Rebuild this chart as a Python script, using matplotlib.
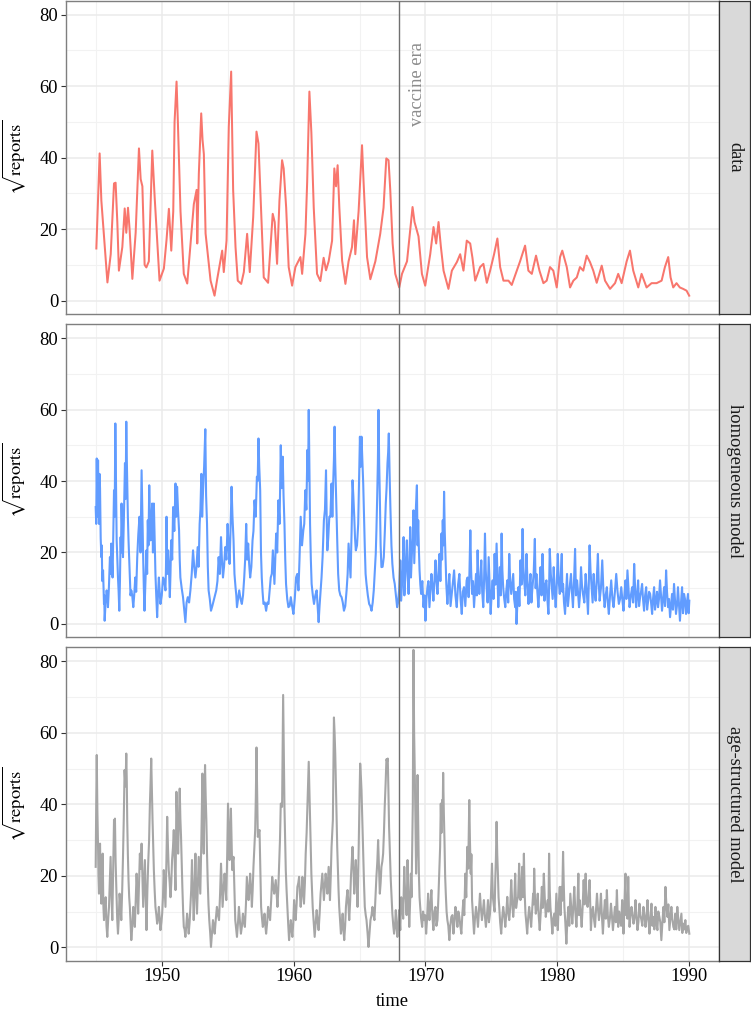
import matplotlib
matplotlib.use("Agg")
import matplotlib.pyplot as plt

plt.rcParams['font.family'] = ['Liberation Serif', 'DejaVu Serif']
plt.rcParams['mathtext.fontset'] = 'stix'

# ---------------- data ----------------
data_t = [1945.05, 1945.30, 1945.43, 1945.89, 1946.14, 1946.39, 1946.51, 1946.64, 1946.76, 1947.02,
          1947.20, 1947.32, 1947.45, 1947.57, 1947.78, 1948.03, 1948.28, 1948.41, 1948.54, 1948.71,
          1948.84, 1949.03, 1949.29, 1949.47, 1949.84, 1950.17, 1950.37, 1950.55, 1950.73, 1950.88,
          1950.98, 1951.13, 1951.23, 1951.43, 1951.68, 1951.94, 1952.19, 1952.44, 1952.65, 1952.70,
          1952.82, 1953.00, 1953.10, 1953.20, 1953.33, 1953.71, 1954.01, 1954.21, 1954.59, 1954.71,
          1954.92, 1955.09, 1955.27, 1955.42, 1955.60, 1955.77, 1956.03, 1956.23, 1956.48, 1956.68,
          1956.94, 1957.19, 1957.34, 1957.49, 1957.74, 1958.07, 1958.25, 1958.42, 1958.57, 1958.75,
          1958.93, 1959.13, 1959.25, 1959.44, 1959.63, 1959.89, 1960.14, 1960.52, 1960.65, 1960.90,
          1961.03, 1961.20, 1961.35, 1961.53, 1961.78, 1962.03, 1962.28, 1962.46, 1962.66, 1962.92,
          1963.09, 1963.22, 1963.34, 1963.47, 1963.68, 1963.93, 1964.17, 1964.43, 1964.58, 1964.68,
          1964.93, 1965.19, 1965.31, 1965.57, 1965.82, 1966.20, 1966.57, 1966.82, 1967.03, 1967.20,
          1967.33, 1967.51, 1967.71, 1968.01, 1968.22, 1968.60, 1968.85, 1969.02, 1969.17, 1969.47,
          1969.73, 1969.98, 1970.36, 1970.61, 1970.81, 1970.99, 1971.17, 1971.37, 1971.74, 1972.00,
          1972.38, 1972.63, 1972.88, 1973.13, 1973.39, 1973.56, 1973.77, 1974.14, 1974.39, 1974.65,
          1974.90, 1975.20, 1975.45, 1975.66, 1975.91, 1976.29, 1976.54, 1976.92, 1977.17, 1977.55,
          1977.80, 1978.06, 1978.38, 1978.64, 1978.94, 1979.19, 1979.44, 1979.69, 1979.95, 1980.20,
          1980.37, 1980.71, 1980.96, 1981.21, 1981.47, 1981.71, 1981.96, 1982.22, 1982.47, 1982.72,
          1982.98, 1983.36, 1983.61, 1983.99, 1984.37, 1984.61, 1984.87, 1985.25, 1985.50, 1985.75,
          1986.13, 1986.38, 1986.76, 1987.14, 1987.52, 1987.90, 1988.15, 1988.40, 1988.58, 1988.78,
          1989.03, 1989.28, 1989.53, 1989.79, 1989.99]
data_v = [14.6, 41.2, 28.0, 5.1, 13.0, 32.8, 33.0, 22.0, 8.4, 15.0,
          25.8, 19.0, 26.0, 20.0, 6.1, 19.0, 42.6, 34.0, 32.0, 10.0,
          9.3, 11.0, 42.0, 29.0, 5.6, 9.0, 17.0, 25.7, 14.0, 25.0,
          50.0, 61.3, 50.0, 25.0, 7.5, 4.8, 16.0, 27.0, 31.0, 16.0,
          35.6, 52.4, 45.0, 41.0, 18.8, 5.6, 1.4, 6.0, 14.0, 8.0,
          16.8, 48.7, 64.1, 31.0, 15.0, 5.6, 4.7, 8.0, 18.7, 8.0,
          23.4, 47.3, 44.0, 30.0, 6.5, 5.0, 15.0, 24.3, 22.0, 10.3,
          28.0, 39.3, 37.0, 26.0, 9.4, 4.2, 9.4, 12.2, 7.5, 18.7,
          33.0, 58.5, 47.0, 26.0, 7.5, 5.5, 12.0, 8.5, 11.0, 16.8,
          37.0, 32.0, 37.9, 26.0, 11.2, 4.7, 11.0, 15.0, 22.5, 13.0,
          25.0, 43.5, 33.0, 12.2, 6.0, 11.0, 18.7, 26.0, 39.8, 39.3,
          31.0, 16.0, 7.5, 3.7, 7.5, 11.0, 20.0, 26.2, 22.0, 18.0,
          7.5, 4.2, 13.0, 20.6, 16.0, 22.0, 15.0, 8.4, 3.3, 8.4,
          10.8, 13.0, 8.4, 16.8, 16.0, 12.0, 5.6, 9.4, 10.3, 5.0,
          8.4, 13.0, 17.4, 9.4, 5.6, 5.6, 4.4, 8.4, 11.0, 15.4,
          8.4, 7.5, 12.6, 8.4, 4.9, 5.6, 9.4, 8.4, 3.7, 12.2,
          14.0, 9.4, 3.7, 5.6, 6.5, 9.4, 8.4, 12.6, 10.8, 8.4,
          5.0, 9.8, 5.6, 3.3, 4.9, 7.5, 4.9, 11.0, 14.0, 8.4,
          3.7, 7.5, 3.7, 4.9, 4.9, 5.6, 9.4, 12.2, 6.5, 3.7,
          4.9, 3.7, 3.3, 2.8, 1.4]

homog_t = [1945.00, 1945.08, 1945.18, 1945.25, 1945.33, 1945.43, 1945.50, 1945.63, 1945.68, 1945.83,
           1945.93, 1946.08, 1946.18, 1946.28, 1946.39, 1946.49, 1946.59, 1946.69, 1946.79, 1946.89,
           1946.96, 1947.07, 1947.22, 1947.32, 1947.39, 1947.49, 1947.59, 1947.70, 1947.85, 1948.00,
           1948.15, 1948.32, 1948.48, 1948.60, 1948.70, 1948.85, 1948.95, 1949.06, 1949.16, 1949.28,
           1949.41, 1949.53, 1949.66, 1949.79, 1949.91, 1950.11, 1950.29, 1950.37, 1950.49, 1950.62,
           1950.72, 1950.87, 1951.05, 1951.17, 1951.32, 1951.42, 1951.62, 1951.80, 1951.98, 1952.18,
           1952.38, 1952.56, 1952.73, 1952.88, 1953.01, 1953.14, 1953.31, 1953.44, 1953.56, 1953.74,
           1953.94, 1954.14, 1954.32, 1954.50, 1954.65, 1954.82, 1955.00, 1955.15, 1955.30, 1955.45,
           1955.60, 1955.71, 1955.88, 1956.08, 1956.26, 1956.41, 1956.56, 1956.71, 1956.89, 1957.04,
           1957.22, 1957.34, 1957.47, 1957.59, 1957.72, 1957.92, 1958.10, 1958.27, 1958.43, 1958.55,
           1958.68, 1958.85, 1959.03, 1959.18, 1959.31, 1959.43, 1959.61, 1959.79, 1959.99, 1960.19,
           1960.37, 1960.54, 1960.74, 1960.89, 1961.05, 1961.15, 1961.25, 1961.37, 1961.55, 1961.75,
           1961.90, 1962.05, 1962.20, 1962.30, 1962.46, 1962.56, 1962.71, 1962.88, 1963.01, 1963.11,
           1963.21, 1963.31, 1963.46, 1963.64, 1963.82, 1964.02, 1964.17, 1964.32, 1964.47, 1964.60,
           1964.72, 1964.90, 1965.03, 1965.15, 1965.28, 1965.40, 1965.53, 1965.73, 1965.91, 1966.08,
           1966.23, 1966.34, 1966.44, 1966.54, 1966.66, 1966.84, 1966.99, 1967.12, 1967.22, 1967.34,
           1967.49, 1967.67, 1967.85, 1968.00,
           1968.09, 1968.21, 1968.34, 1968.46, 1968.59, 1968.72, 1968.84, 1968.97, 1969.09, 1969.22,
           1969.35, 1969.45, 1969.55, 1969.67, 1969.85, 1970.00, 1970.15, 1970.30, 1970.45, 1970.60,
           1970.76, 1970.91, 1971.06, 1971.21, 1971.31, 1971.41, 1971.51, 1971.66, 1971.81, 1971.99,
           1972.17, 1972.37, 1972.57, 1972.75, 1972.92, 1973.12, 1973.27, 1973.40, 1973.53, 1973.68,
           1973.83, 1973.95, 1974.08, 1974.23, 1974.38, 1974.51, 1974.63, 1974.79, 1974.94, 1975.09,
           1975.24, 1975.39, 1975.52, 1975.64, 1975.77, 1975.89, 1976.05, 1976.20, 1976.35, 1976.50,
           1976.65, 1976.80, 1976.90, 1977.05, 1977.20, 1977.36, 1977.48, 1977.66, 1977.81, 1977.96,
           1978.11, 1978.29, 1978.41, 1978.56, 1978.72, 1978.87, 1979.02, 1979.17, 1979.32, 1979.42,
           1979.57, 1979.72, 1979.87, 1980.03, 1980.18, 1980.33, 1980.43, 1980.58, 1980.73, 1980.88,
           1981.03, 1981.18, 1981.34, 1981.49, 1981.64, 1981.79, 1981.94, 1982.14, 1982.32, 1982.44,
           1982.59, 1982.75, 1982.90, 1983.07, 1983.20, 1983.40, 1983.58, 1983.75, 1983.90, 1984.08,
           1984.26, 1984.46, 1984.66, 1984.84, 1985.01, 1985.16, 1985.31, 1985.47, 1985.67, 1985.82,
           1985.97, 1986.12, 1986.27, 1986.42, 1986.57, 1986.73, 1986.88, 1987.03, 1987.18, 1987.33,
           1987.48, 1987.63, 1987.78, 1987.93, 1988.09, 1988.24, 1988.39, 1988.54, 1988.69, 1988.84,
           1988.99, 1989.14, 1989.29, 1989.45, 1989.60, 1989.75, 1989.90, 1990.00]
homog_v = [32.7, 46.3, 45.8, 28.0, 38.0, 18.7, 12.0, 5.6, 0.9, 9.4,
           4.7, 18.7, 22.5, 13.0, 37.4, 56.1, 23.4, 13.0, 3.7, 24.3,
           33.7, 18.7, 45.0, 56.6, 39.3, 23.4, 13.0, 9.4, 4.7, 13.0,
           18.7, 30.0, 43.0, 18.7, 3.7, 20.6, 29.0, 38.8, 23.4, 33.7,
           33.7, 14.0, 1.9, 13.0, 5.6, 13.0, 9.4, 30.0, 20.6, 7.5,
           23.4, 32.7, 39.3, 38.4, 26.2, 13.0, 7.5, 0.5, 7.5, 9.4,
           20.6, 13.0, 21.5, 28.0, 42.0, 37.4, 54.5, 28.0, 9.4, 3.7,
           6.5, 9.4, 18.7, 24.3, 13.0, 21.5, 28.0, 16.8, 38.4, 23.4,
           10.3, 4.7, 9.4, 5.6, 13.0, 28.0, 22.5, 13.0, 23.4, 34.6,
           41.2, 51.9, 37.4, 13.0, 5.6, 3.7, 5.6, 13.0, 20.6, 11.2,
           25.3, 34.6, 50.0, 46.8, 28.0, 11.2, 4.7, 7.5, 2.8, 13.0,
           9.4, 30.0, 26.2, 37.4, 48.7, 59.9, 28.0, 11.2, 5.6, 9.4,
           0.5, 9.4, 18.7, 29.0, 43.0, 20.6, 30.0, 39.3, 40.2, 55.2,
           37.4, 23.4, 9.4, 7.5, 3.7, 9.4, 22.5, 13.0, 40.2, 30.0,
           20.6, 28.0, 52.4, 52.4, 39.3, 21.5, 11.2, 5.6, 3.7, 9.4,
           19.6, 35.6, 59.9, 35.6, 15.9, 18.7, 33.7, 45.0, 53.3, 32.7,
           16.8, 11.2, 4.7, 9.4,
           17.8, 10.3, 24.3, 12.2, 23.4, 8.4, 27.1, 19.6, 31.8, 25.3,
           38.8, 29.0, 15.0, 8.4, 4.7, 0.9, 10.3, 4.7, 14.0, 6.5,
           17.8, 8.4, 19.6, 25.3, 29.0, 37.0, 19.6, 5.6, 14.0, 8.4,
           15.0, 4.7, 14.0, 2.8, 10.3, 12.2, 7.5, 26.2, 8.4, 4.7,
           14.0, 20.6, 8.4, 17.8, 4.7, 25.3, 10.3, 18.7, 2.8, 12.2,
           19.6, 22.5, 4.7, 15.9, 25.3, 10.3, 4.7, 12.2, 19.6, 8.4,
           14.0, 4.7, 0.0, 10.3, 17.8, 26.6, 12.2, 19.6, 5.6, 14.0,
           10.3, 23.8, 14.0, 4.7, 15.9, 19.6, 6.5, 12.2, 2.8, 21.0,
           10.3, 15.9, 4.7, 19.6, 8.4, 19.6, 11.2, 2.8, 14.0, 8.4,
           14.0, 4.7, 21.0, 12.2, 4.7, 15.9, 8.4, 14.0, 2.8, 22.0,
           10.3, 14.0, 6.5, 19.6, 6.5, 17.8, 4.7, 10.3, 2.8, 12.2,
           4.7, 14.0, 5.6, 10.3, 3.7, 12.2, 15.0, 4.7, 10.3, 16.8,
           4.7, 12.2, 7.5, 11.2, 3.7, 10.3, 6.5, 8.4, 2.8, 10.3,
           6.5, 4.7, 12.2, 3.7, 10.3, 15.0, 4.7, 1.9, 8.4, 11.2,
           2.8, 10.3, 0.9, 10.3, 8.4, 2.8, 8.4, 6.5]

# further readings of the dense weekly trace (homogeneous model)
homog_more_t = [1945.04, 1945.13, 1945.21, 1945.29, 1945.38, 1945.46, 1945.56, 1945.65, 1945.75, 1945.88,
                1946.00, 1946.13, 1946.23, 1946.33, 1946.44, 1946.54, 1946.64, 1946.74, 1946.84, 1946.92,
                1947.01, 1947.14, 1947.27, 1947.35, 1947.44, 1947.54, 1947.64, 1947.77, 1947.92, 1948.07,
                1948.23, 1948.40, 1948.54, 1948.65, 1948.77, 1948.90, 1949.00, 1949.11, 1949.22, 1949.34,
                1949.47, 1949.59, 1949.72, 1949.85, 1950.01, 1950.20, 1950.33, 1950.43, 1950.55, 1950.67,
                1950.80, 1950.96, 1951.11, 1951.24, 1951.37, 1951.52, 1951.71, 1951.89, 1952.08, 1952.28,
                1952.47, 1952.64, 1952.80, 1952.94, 1953.07, 1953.22, 1953.37, 1953.50, 1953.65, 1953.84,
                1954.04, 1954.23, 1954.41, 1954.57, 1954.73, 1954.91, 1955.07, 1955.22, 1955.37, 1955.52,
                1955.66, 1955.79, 1955.98, 1956.17, 1956.33, 1956.48, 1956.63, 1956.80, 1956.96, 1957.13,
                1957.28, 1957.40, 1957.53, 1957.65, 1957.82, 1958.01, 1958.18, 1958.35, 1958.49, 1958.61,
                1958.76, 1958.94, 1959.10, 1959.24, 1959.37, 1959.52, 1959.70, 1959.89, 1960.09, 1960.28,
                1960.45, 1960.64, 1960.81, 1960.97, 1961.10, 1961.20, 1961.31, 1961.46, 1961.65, 1961.82,
                1961.97, 1962.12, 1962.25, 1962.38, 1962.51, 1962.63, 1962.79, 1962.94, 1963.06, 1963.16,
                1963.26, 1963.38, 1963.55, 1963.73, 1963.92, 1964.10, 1964.24, 1964.40, 1964.53, 1964.66,
                1964.81, 1964.96, 1965.09, 1965.21, 1965.34, 1965.46, 1965.63, 1965.82, 1966.00, 1966.15,
                1966.28, 1966.39, 1966.49, 1966.60, 1966.75, 1966.92, 1967.05, 1967.17, 1967.28, 1967.42,
                1967.58, 1967.76, 1967.92,
                1968.15, 1968.27, 1968.40, 1968.52, 1968.65, 1968.78, 1968.90, 1969.03, 1969.15, 1969.28,
                1969.40, 1969.50, 1969.61, 1969.76, 1969.92, 1970.07, 1970.22, 1970.37, 1970.52, 1970.68,
                1970.83, 1970.98, 1971.13, 1971.26, 1971.36, 1971.46, 1971.58, 1971.73, 1971.90, 1972.08,
                1972.27, 1972.47, 1972.66, 1972.83, 1973.02, 1973.19, 1973.33, 1973.46, 1973.60, 1973.75,
                1973.89, 1974.01, 1974.15, 1974.30, 1974.44, 1974.57, 1974.71, 1974.86, 1975.01, 1975.16,
                1975.31, 1975.45, 1975.58, 1975.70, 1975.83, 1975.97, 1976.12, 1976.27, 1976.42, 1976.57,
                1976.72, 1976.85, 1976.97, 1977.12, 1977.28, 1977.42, 1977.57, 1977.73, 1977.88, 1978.03,
                1978.20, 1978.35, 1978.48, 1978.64, 1978.80, 1978.94, 1979.09, 1979.24, 1979.37, 1979.50,
                1979.64, 1979.80, 1979.95, 1980.10, 1980.25, 1980.38, 1980.50, 1980.66, 1980.80, 1980.95,
                1981.10, 1981.26, 1981.41, 1981.56, 1981.71, 1981.86, 1982.04, 1982.23, 1982.38, 1982.51,
                1982.67, 1982.82, 1982.98, 1983.13, 1983.30, 1983.49, 1983.66, 1983.82, 1983.99, 1984.17,
                1984.36, 1984.56, 1984.75, 1984.92, 1985.08, 1985.23, 1985.39, 1985.57, 1985.74, 1985.89,
                1986.04, 1986.19, 1986.34, 1986.49, 1986.65, 1986.80, 1986.95, 1987.10, 1987.25, 1987.40,
                1987.55, 1987.70, 1987.85, 1988.01, 1988.16, 1988.31, 1988.46, 1988.61, 1988.76, 1988.91,
                1989.06, 1989.21, 1989.37, 1989.52, 1989.67, 1989.82, 1989.95]
homog_more_v = [28, 30, 36, 42, 24, 22, 15, 8, 6, 8,
                10, 14, 18, 25, 30, 40, 18, 9, 12, 20,
                26, 30, 35, 48, 30, 18, 8, 8, 8, 9,
                25, 20, 30, 10, 12, 14, 22, 30, 28, 20,
                24, 8, 8, 9, 8, 12, 16, 14, 16, 14,
                18, 26, 30, 32, 18, 10, 4, 6, 6, 14,
                16, 16, 16, 32, 30, 44, 36, 16, 7, 5,
                8, 12, 14, 18, 16, 18, 22, 26, 30, 14,
                8, 7, 7, 8, 18, 18, 17, 16, 26, 30,
                40, 44, 20, 9, 6, 6, 9, 14, 16, 18,
                20, 28, 38, 36, 18, 7, 5, 5, 7, 14,
                18, 22, 28, 32, 40, 44, 18, 8, 8, 5,
                5, 13, 24, 32, 30, 24, 30, 30, 46, 45,
                30, 14, 8, 6, 5, 14, 18, 26, 36, 24,
                22, 40, 44, 46, 30, 14, 8, 5, 6, 14,
                26, 45, 45, 22, 16, 26, 38, 48, 42, 22,
                13, 8, 6,
                6.5, 15, 8, 18, 14, 16, 13, 24, 17, 33,
                22, 21, 11, 12, 8, 7, 12, 9, 11, 12,
                12, 14, 12, 18, 22, 26, 11, 10, 5, 12,
                8, 11, 7, 9, 5, 13, 14, 15, 12, 9,
                8, 13, 12, 9, 12, 15, 6, 11, 8, 7,
                11, 14, 11, 8, 15, 7, 9, 6, 12, 11,
                7, 9, 6, 5, 11, 16, 8, 12, 10, 6,
                14, 10, 9, 10, 8, 12, 11, 7, 10, 14,
                7, 9, 11, 12, 13, 9, 6, 9, 5, 11,
                9, 12, 8, 9, 8, 11, 6, 9, 11, 15,
                6, 9, 12, 12, 10, 9, 8, 6, 8, 7,
                9, 9, 7, 7, 8, 7, 10, 8, 6, 10,
                8, 5, 9, 7, 8, 4, 9, 6, 7, 4,
                9, 7, 8, 7, 5, 9, 7, 5, 4, 7,
                5, 6, 6, 3, 7, 6, 3]

age_t = [1945.00, 1945.08, 1945.18, 1945.25, 1945.33, 1945.43, 1945.53, 1945.63, 1945.76, 1945.88,
         1946.01, 1946.13, 1946.26, 1946.39, 1946.46, 1946.56, 1946.69, 1946.81, 1946.94, 1947.07,
         1947.19, 1947.32, 1947.39, 1947.49, 1947.59, 1947.70, 1947.85, 1947.97, 1948.10, 1948.22,
         1948.35, 1948.48, 1948.60, 1948.73, 1948.85, 1948.98, 1949.11, 1949.21, 1949.31, 1949.41,
         1949.53, 1949.66, 1949.79, 1949.91, 1950.04, 1950.16, 1950.29, 1950.42, 1950.54, 1950.67,
         1950.79, 1950.92, 1951.05, 1951.12, 1951.25, 1951.37, 1951.47, 1951.57, 1951.68, 1951.80,
         1951.93, 1952.05, 1952.18, 1952.30, 1952.43, 1952.56, 1952.68, 1952.81, 1952.93, 1953.09,
         1953.19, 1953.29, 1953.39, 1953.49, 1953.61, 1953.74, 1953.89, 1954.02, 1954.19, 1954.35,
         1954.50, 1954.62, 1954.77, 1954.90, 1955.03, 1955.15, 1955.25, 1955.35, 1955.45, 1955.58,
         1955.71, 1955.86, 1956.01, 1956.16, 1956.31, 1956.46, 1956.59, 1956.71, 1956.84, 1956.96,
         1957.09, 1957.19, 1957.29, 1957.42, 1957.54, 1957.67, 1957.80, 1957.92, 1958.07, 1958.22,
         1958.38, 1958.53, 1958.65, 1958.78, 1958.90, 1959.03, 1959.13, 1959.21, 1959.31, 1959.41,
         1959.53, 1959.66, 1959.79, 1959.91, 1960.04, 1960.16, 1960.29, 1960.42, 1960.54, 1960.67,
         1960.79, 1960.92, 1961.05, 1961.15, 1961.25, 1961.35, 1961.45, 1961.60, 1961.75, 1961.90,
         1962.05, 1962.18, 1962.30, 1962.43, 1962.56, 1962.66, 1962.76, 1962.88, 1962.98, 1963.06,
         1963.16, 1963.26, 1963.36, 1963.46, 1963.59, 1963.72, 1963.84, 1963.97, 1964.09, 1964.22,
         1964.35, 1964.47, 1964.60, 1964.72, 1964.85, 1964.97, 1965.05, 1965.15, 1965.28, 1965.40,
         1965.53, 1965.68, 1965.83, 1965.98, 1966.13, 1966.28, 1966.41, 1966.54, 1966.66, 1966.79,
         1966.91, 1967.04, 1967.14, 1967.24, 1967.37, 1967.49, 1967.62, 1967.75, 1967.87, 1968.00,
         1968.09, 1968.24, 1968.39, 1968.51, 1968.64, 1968.77, 1968.89, 1968.99, 1969.09, 1969.19,
         1969.29, 1969.40, 1969.50, 1969.60, 1969.75, 1969.90, 1970.05, 1970.20, 1970.30, 1970.45,
         1970.60, 1970.76, 1970.91, 1971.06, 1971.16, 1971.26, 1971.34, 1971.44, 1971.54, 1971.66,
         1971.81, 1971.96, 1972.12, 1972.27, 1972.42, 1972.57, 1972.72, 1972.87, 1973.02, 1973.17,
         1973.32, 1973.43, 1973.53, 1973.68, 1973.83, 1973.98, 1974.13, 1974.28, 1974.43, 1974.58,
         1974.74, 1974.89, 1975.04, 1975.19, 1975.29, 1975.39, 1975.49, 1975.59, 1975.74, 1975.89,
         1976.05, 1976.20, 1976.35, 1976.50, 1976.65, 1976.80, 1976.95, 1977.10, 1977.20, 1977.33,
         1977.46, 1977.58, 1977.71, 1977.86, 1978.01, 1978.16, 1978.24, 1978.36, 1978.51, 1978.66,
         1978.82, 1978.97, 1979.12, 1979.27, 1979.37, 1979.47, 1979.62, 1979.77, 1979.92, 1980.03,
         1980.18, 1980.30, 1980.43, 1980.53, 1980.68, 1980.83, 1980.98, 1981.13, 1981.28, 1981.44,
         1981.59, 1981.69, 1981.84, 1981.99, 1982.14, 1982.29, 1982.44, 1982.54, 1982.70, 1982.85,
         1983.00, 1983.15, 1983.30, 1983.45, 1983.60, 1983.75, 1983.90, 1984.06, 1984.21, 1984.36,
         1984.51, 1984.61, 1984.76, 1984.91, 1985.01, 1985.16, 1985.26, 1985.37, 1985.47, 1985.62,
         1985.77, 1985.92, 1986.07, 1986.22, 1986.37, 1986.52, 1986.68, 1986.83, 1986.98, 1987.13,
         1987.28, 1987.43, 1987.58, 1987.73, 1987.88, 1988.04, 1988.19, 1988.34, 1988.49, 1988.64,
         1988.79, 1988.94, 1989.09, 1989.24, 1989.40, 1989.55, 1989.70, 1989.85, 1990.00]
age_v = [22.5, 53.8, 28.0, 15.0, 29.0, 12.2, 26.2, 7.6, 14.0, 2.9,
         11.3, 25.3, 7.6, 35.6, 36.0, 16.9, 3.8, 15.0, 7.6, 25.3,
         49.6, 54.2, 35.6, 18.8, 11.3, 2.0, 11.3, 5.7, 20.6, 9.4,
         26.2, 29.0, 11.3, 24.4, 4.8, 23.4, 40.2, 52.8, 35.6, 21.6,
         11.3, 6.6, 11.3, 4.8, 9.4, 21.6, 11.3, 36.5, 21.6, 14.0,
         24.4, 32.8, 16.0, 43.5, 26.2, 44.4, 30.9, 16.9, 5.7, 2.9,
         9.4, 3.8, 11.3, 24.4, 7.6, 26.2, 9.4, 25.3, 15.0, 48.6,
         26.2, 51.0, 35.6, 18.8, 7.6, 0.1, 7.6, 3.8, 11.3, 7.6,
         23.4, 11.3, 20.6, 13.2, 40.2, 24.4, 38.8, 21.6, 25.3, 7.6,
         2.9, 11.3, 3.8, 9.4, 5.7, 19.7, 13.2, 20.6, 11.3, 22.5,
         32.8, 55.9, 30.9, 32.8, 11.3, 5.7, 9.4, 3.8, 11.3, 7.6,
         19.7, 15.0, 18.8, 11.3, 22.5, 40.2, 39.3, 70.6, 39.3, 21.6,
         11.3, 2.0, 7.6, 2.9, 13.2, 7.6, 16.9, 19.7, 11.3, 19.7,
         12.2, 26.2, 39.3, 51.9, 35.6, 20.6, 11.3, 2.9, 10.4, 4.8,
         15.0, 20.6, 13.2, 20.6, 15.0, 22.5, 13.2, 28.1, 35.6, 64.3,
         54.2, 35.6, 21.6, 11.3, 3.8, 9.4, 2.0, 11.3, 16.0, 7.6,
         19.7, 28.1, 15.0, 24.4, 11.3, 35.6, 51.4, 44.0, 26.2, 11.3,
         7.6, 0.1, 7.6, 11.3, 7.6, 19.7, 30.0, 15.0, 22.5, 26.2,
         39.3, 52.6, 52.8, 33.7, 18.8, 9.4, 3.8, 10.4, 2.9, 10.4,
         4.8, 11.3, 22.5, 13.2, 24.4, 5.7, 20.6, 26.2, 83.2, 48.6,
         20.6, 48.2, 20.6, 11.3, 5.7, 7.6, 3.8, 15.0, 7.6, 16.0,
         4.8, 11.3, 7.6, 22.5, 40.2, 41.2, 48.8, 30.0, 15.0, 7.6,
         2.0, 8.5, 3.8, 11.3, 5.7, 8.5, 3.8, 13.2, 20.6, 28.1,
         41.2, 20.6, 13.2, 3.8, 11.3, 5.7, 15.0, 7.6, 13.2, 5.7,
         13.2, 9.4, 23.4, 11.3, 18.8, 35.1, 20.6, 11.3, 3.8, 11.3,
         5.7, 14.1, 7.6, 18.8, 8.5, 20.6, 13.2, 23.4, 13.2, 22.5,
         26.2, 9.4, 3.8, 11.3, 5.7, 15.0, 22.0, 9.4, 15.0, 4.8,
         16.9, 20.6, 8.5, 13.2, 26.2, 11.3, 3.8, 9.4, 15.0, 4.8,
         16.9, 16.9, 26.7, 11.3, 1.0, 11.3, 15.0, 6.6, 16.9, 5.7,
         20.6, 13.2, 5.7, 18.8, 20.6, 11.3, 18.8, 4.8, 11.3, 5.7,
         15.0, 7.6, 15.0, 3.8, 13.2, 16.0, 5.7, 12.2, 4.8, 11.3,
         16.0, 5.7, 7.6, 13.2, 3.8, 20.6, 13.2, 19.7, 5.7, 11.3,
         6.6, 13.2, 4.8, 12.2, 7.6, 11.3, 5.7, 13.2, 3.8, 12.2,
         8.5, 11.3, 4.8, 8.5, 2.0, 11.3, 16.9, 8.5, 4.8, 11.3,
         5.7, 9.4, 11.3, 4.8, 9.4, 6.6, 7.6, 5.7, 3.8]

# further readings of the dense weekly trace (age-structured model)
age_more_t = [1945.04, 1945.13, 1945.21, 1945.29, 1945.38, 1945.48, 1945.58, 1945.70, 1945.82, 1945.95,
              1946.07, 1946.20, 1946.33, 1946.42, 1946.51, 1946.63, 1946.75, 1946.88, 1947.01, 1947.13,
              1947.26, 1947.36, 1947.44, 1947.54, 1947.65, 1947.78, 1947.91, 1948.04, 1948.16, 1948.29,
              1948.42, 1948.54, 1948.67, 1948.79, 1948.92, 1949.05, 1949.16, 1949.26, 1949.36, 1949.47,
              1949.60, 1949.73, 1949.85, 1949.98, 1950.10, 1950.23, 1950.36, 1950.48, 1950.61, 1950.73,
              1950.86, 1950.99, 1951.09, 1951.19, 1951.31, 1951.42, 1951.52, 1951.63, 1951.74, 1951.87,
              1951.99, 1952.12, 1952.24, 1952.37, 1952.50, 1952.62, 1952.75, 1952.87, 1953.01, 1953.14,
              1953.24, 1953.34, 1953.44, 1953.55, 1953.68, 1953.82, 1953.96, 1954.11, 1954.27, 1954.43,
              1954.56, 1954.70, 1954.84, 1954.97, 1955.09, 1955.20, 1955.30, 1955.40, 1955.52, 1955.65,
              1955.79, 1955.94, 1956.09, 1956.24, 1956.39, 1956.53, 1956.65, 1956.78, 1956.90, 1957.03,
              1957.14, 1957.24, 1957.36, 1957.48, 1957.61, 1957.74, 1957.86, 1958.00, 1958.15, 1958.30,
              1958.46, 1958.59, 1958.72, 1958.84, 1958.97, 1959.08, 1959.17, 1959.26, 1959.36, 1959.47,
              1959.60, 1959.73, 1959.85, 1959.98, 1960.10, 1960.23, 1960.36, 1960.48, 1960.61, 1960.73,
              1960.86, 1960.99, 1961.10, 1961.20, 1961.30, 1961.40, 1961.53, 1961.68, 1961.83, 1961.97,
              1962.12, 1962.24, 1962.37, 1962.50, 1962.61, 1962.71, 1962.82, 1962.93, 1963.02, 1963.11,
              1963.21, 1963.31, 1963.41, 1963.53, 1963.66, 1963.78, 1963.91, 1964.03, 1964.16, 1964.29,
              1964.41, 1964.54, 1964.66, 1964.79, 1964.91, 1965.01, 1965.10, 1965.22, 1965.34, 1965.47,
              1965.61, 1965.76, 1965.91, 1966.06, 1966.21, 1966.35, 1966.48, 1966.60, 1966.73, 1966.85,
              1966.98, 1967.09, 1967.19, 1967.31, 1967.43, 1967.56, 1967.69, 1967.81, 1967.94,
              1968.16, 1968.31, 1968.45, 1968.57, 1968.70, 1968.83, 1968.94, 1969.04, 1969.14, 1969.24,
              1969.35, 1969.45, 1969.55, 1969.67, 1969.82, 1969.97, 1970.12, 1970.25, 1970.37, 1970.52,
              1970.68, 1970.83, 1970.98, 1971.11, 1971.21, 1971.30, 1971.39, 1971.49, 1971.60, 1971.73,
              1971.88, 1972.04, 1972.19, 1972.34, 1972.49, 1972.64, 1972.79, 1972.94, 1973.09, 1973.24,
              1973.37, 1973.48, 1973.60, 1973.75, 1973.90, 1974.05, 1974.20, 1974.35, 1974.50, 1974.66,
              1974.81, 1974.96, 1975.11, 1975.24, 1975.34, 1975.44, 1975.54, 1975.66, 1975.81, 1975.97,
              1976.12, 1976.27, 1976.42, 1976.57, 1976.72, 1976.87, 1977.02, 1977.15, 1977.26, 1977.39,
              1977.52, 1977.64, 1977.78, 1977.93, 1978.08, 1978.20, 1978.30, 1978.43, 1978.58, 1978.74,
              1978.89, 1979.04, 1979.19, 1979.32, 1979.42, 1979.54, 1979.69, 1979.84, 1979.97, 1980.10,
              1980.24, 1980.36, 1980.48, 1980.60, 1980.75, 1980.90, 1981.05, 1981.20, 1981.36, 1981.51,
              1981.64, 1981.76, 1981.91, 1982.06, 1982.21, 1982.36, 1982.49, 1982.62, 1982.77, 1982.92,
              1983.07, 1983.22, 1983.37, 1983.52, 1983.67, 1983.82, 1983.98, 1984.13, 1984.28, 1984.43,
              1984.56, 1984.68, 1984.83, 1984.96, 1985.08, 1985.21, 1985.31, 1985.42, 1985.54, 1985.69,
              1985.84, 1985.99, 1986.14, 1986.29, 1986.44, 1986.60, 1986.75, 1986.90, 1987.05, 1987.20,
              1987.35, 1987.50, 1987.65, 1987.80, 1987.96, 1988.11, 1988.26, 1988.41, 1988.56, 1988.71,
              1988.86, 1989.01, 1989.16, 1989.32, 1989.47, 1989.62, 1989.77, 1989.92]
age_more_v = [40, 38, 20, 24, 18, 20, 12, 12, 6, 8,
              18, 14, 22, 30, 24, 8, 8, 12, 16, 36,
              45, 46, 26, 14, 6, 6, 9, 14, 16, 18,
              22, 20, 18, 14, 16, 30, 46, 44, 28, 16,
              9, 8, 8, 7, 14, 16, 24, 28, 18, 18,
              28, 24, 30, 34, 36, 36, 24, 10, 5, 6,
              7, 7, 16, 16, 16, 16, 18, 20, 30, 36,
              40, 42, 26, 12, 4, 4, 6, 8, 9, 15,
              17, 16, 17, 26, 32, 30, 30, 24, 16, 5,
              7, 7, 6, 7, 12, 16, 16, 16, 16, 28,
              42, 44, 32, 22, 8, 7, 6, 7, 9, 13,
              17, 17, 15, 16, 30, 40, 54, 55, 30, 16,
              6, 5, 5, 7, 10, 12, 18, 15, 15, 16,
              18, 32, 46, 44, 28, 16, 7, 7, 7, 9,
              18, 17, 17, 18, 19, 18, 20, 32, 50, 60,
              45, 28, 16, 7, 6, 5, 6, 14, 12, 13,
              24, 22, 20, 18, 22, 44, 48, 34, 18, 9,
              4, 4, 9, 9, 14, 24, 22, 18, 24, 32,
              46, 52, 44, 26, 14, 6, 6, 6, 6,
              14, 8, 16, 9, 15, 12, 14, 40, 60, 35,
              30, 35, 14, 8, 10, 9, 8, 10, 12, 9,
              10, 6, 14, 28, 32, 36, 38, 20, 10, 6,
              6, 9, 7, 9, 10, 6, 9, 9, 14, 22,
              30, 26, 9, 8, 9, 10, 11, 10, 9, 9,
              7, 14, 14, 10, 25, 26, 14, 7, 8, 9,
              9, 10, 11, 13, 12, 11, 14, 16, 16, 14,
              15, 7, 8, 9, 10, 12, 14, 11, 9, 10,
              11, 14, 11, 10, 16, 8, 8, 6, 10, 12,
              9, 13, 18, 7, 7, 6, 11, 11, 10, 11,
              9, 10, 11, 12, 13, 14, 12, 10, 8, 10,
              11, 10, 9, 9, 8, 9, 8, 9, 8, 7,
              10, 10, 6, 9, 12, 9, 8, 11, 9, 9,
              8, 9, 7, 9, 6, 9, 8, 8, 8, 6,
              5, 7, 10, 7, 7, 7, 12, 12, 8, 8,
              5, 5, 8, 7, 4, 5, 4, 6]

panel_names = ["data", "homogeneous model", "age-structured model"]
panel_colors = ["#F8766D", "#619CFF", "#A6A6A6"]
series_t = [data_t, homog_t + homog_more_t, age_t + age_more_t]
series_v = [data_v, homog_v + homog_more_v, age_v + age_more_v]
line_widths = [1.45, 1.5, 1.5]
vaccine_year = 1968
y_ticks = [0, 20, 40, 60, 80]
x_ticks = [1950, 1960, 1970, 1980, 1990]

# ---------------- figure ----------------
W, H = 751, 1014
fig = plt.figure(figsize=(W / 100, H / 100), dpi=100)

left_px, right_px = 66, 719
panel_tops = [0.7, 324.0, 647.3]
panel_h = 313.3

for i in range(3):
    top = panel_tops[i]
    ax = fig.add_axes([left_px / W, (H - top - panel_h) / H,
                       (right_px - left_px) / W, panel_h / H])
    ax.set_xlim(1942.75, 1992.25)
    ax.set_ylim(-3.73, 83.93)
    ax.set_facecolor("white")
    # grid
    for yv in [10, 30, 50, 70]:
        ax.axhline(yv, color="#F2F2F2", lw=0.8, zorder=0)
    for xv in [1945, 1955, 1965, 1975, 1985]:
        ax.axvline(xv, color="#F2F2F2", lw=0.8, zorder=0)
    for yv in y_ticks:
        ax.axhline(yv, color="#EBEBEB", lw=1.1, zorder=0)
    for xv in x_ticks:
        ax.axvline(xv, color="#EBEBEB", lw=1.1, zorder=0)

    pts = sorted(zip(series_t[i], series_v[i]))
    ax.plot([p[0] for p in pts], [p[1] for p in pts], color=panel_colors[i],
            lw=line_widths[i], solid_joinstyle="round", zorder=2)
    ax.axvline(vaccine_year, color="#707070", lw=1.0, zorder=3)

    for s in ax.spines.values():
        s.set_color("#7F7F7F")
        s.set_linewidth(1.0)
    ax.set_yticks(y_ticks)
    ax.set_xticks(x_ticks)
    ax.tick_params(axis="both", colors="#333333", length=3.6, width=0.8,
                   labelsize=13.3, pad=2, labelcolor="black")
    if i < 2:
        ax.tick_params(axis="x", bottom=False, labelbottom=False)
    else:
        ax.set_xticklabels([str(x) for x in x_ticks])

    if i == 0:
        ax.text(1969.4, 60.5, "vaccine era", rotation=90, color="#8C8C8C",
                fontsize=13.3, ha="center", va="center")

    # y label
    fig.text(14 / W, (H - top - panel_h / 2) / H, r"$\sqrt{\mathrm{reports}}$",
             rotation=90, ha="center", va="center", fontsize=13.3)

    # strip
    sax = fig.add_axes([right_px / W, (H - top - panel_h) / H,
                        31 / W, panel_h / H])
    sax.set_facecolor("#D9D9D9")
    sax.set_xticks([])
    sax.set_yticks([])
    for s in sax.spines.values():
        s.set_color("#333333")
        s.set_linewidth(0.9)
    sax.text(0.5, 0.5, panel_names[i], rotation=-90, ha="center", va="center",
             fontsize=13.3, color="#1A1A1A", transform=sax.transAxes)

fig.text((left_px + right_px) / 2 / W, (H - 1002) / H, "time",
         ha="center", va="center", fontsize=13.3)

fig.savefig("out.png", dpi=100)
